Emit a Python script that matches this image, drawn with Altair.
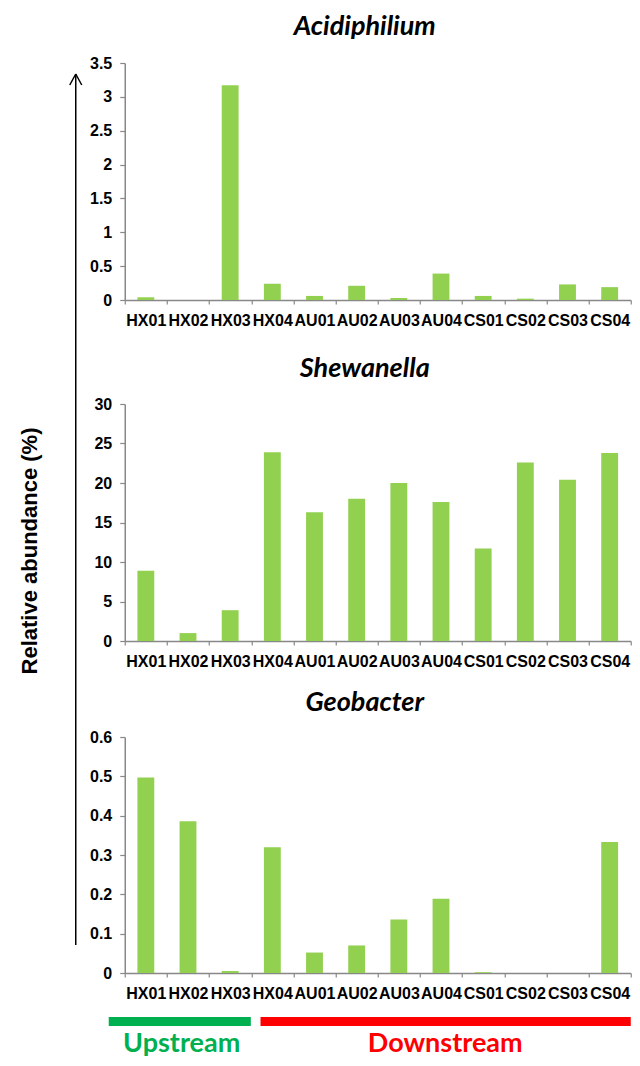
import altair as alt
import pandas as pd

samples = ["HX01", "HX02", "HX03", "HX04", "AU01", "AU02", "AU03", "AU04",
           "CS01", "CS02", "CS03", "CS04"]
acidiphilium = [0.04, 0.0, 3.17, 0.24, 0.06, 0.21, 0.03, 0.39, 0.06, 0.02, 0.23, 0.19]
shewanella = [8.9, 1.0, 3.9, 23.9, 16.3, 18.0, 20.0, 17.6, 11.7, 22.6, 20.4, 23.8]
geobacter = [0.497, 0.386, 0.005, 0.32, 0.052, 0.07, 0.136, 0.189, 0.002, 0.0, 0.0, 0.333]
taxa = ["Acidiphilium", "Shewanella", "Geobacter"]
y_max = [3.5, 30, 0.6]
y_ticks = [
    [0, 0.5, 1, 1.5, 2, 2.5, 3, 3.5],
    [0, 5, 10, 15, 20, 25, 30],
    [0, 0.1, 0.2, 0.3, 0.4, 0.5, 0.6],
]
y_title = "Relative abundance (%)"
regions = ["Upstream", "Downstream"]
region_start = [-0.38, 3.22]
region_end = [2.99, 12.0]
region_label_pos = [1.35, 7.6]
region_colors = ["#00B050", "#FF0000"]

BAR = "#92D050"
AXIS_GRAY = "#888888"
W = 506
FONT = "Liberation Sans"


def one_row(**kw):
    return pd.DataFrame({k: [v] for k, v in kw.items()})


def panel(i, values, y_range=None, title_y=-28):
    df = pd.DataFrame({"sample": samples, "value": values})
    if y_range is not None:
        yscale = alt.Scale(domain=[0, y_max[i]], nice=False, zero=True, range=y_range)
    else:
        yscale = alt.Scale(domain=[0, y_max[i]], nice=False, zero=True)
    bars = alt.Chart(df).mark_bar(color=BAR, width=alt.RelativeBandSize(0.4)).encode(
        x=alt.X("sample:N", sort=samples,
                scale=alt.Scale(paddingInner=0, paddingOuter=0),
                axis=alt.Axis(title=None, labelAngle=0, tickBand="extent",
                              labelOverlap=False,
                              labelFont=FONT, labelFontWeight="bold", labelFontSize=16,
                              labelColor="black", labelPadding=8, tickSize=4,
                              tickColor=AXIS_GRAY, domainColor=AXIS_GRAY,
                              domainWidth=1.5, tickWidth=1.2)),
        y=alt.Y("value:Q", scale=yscale,
                axis=alt.Axis(title=None, values=y_ticks[i], format="~g", grid=False,
                              labelFont=FONT, labelFontWeight="bold", labelFontSize=16,
                              labelColor="black", labelPadding=8, tickSize=5,
                              tickColor=AXIS_GRAY, domainColor=AXIS_GRAY,
                              domainWidth=1.5, tickWidth=1.2)),
    )
    ttl = alt.Chart(one_row(t=taxa[i])).mark_text(
        font="Lato", fontSize=27, fontStyle="italic", fontWeight="bold",
        align="center", baseline="alphabetic", color="black",
    ).encode(text="t:N", x=alt.value(240), y=alt.value(title_y))
    return bars, ttl


b1, t1 = panel(0, acidiphilium, title_y=-28)
p1 = alt.layer(b1, t1).properties(width=W, height=237)

b2, t2 = panel(1, shewanella, y_range=[245, 8], title_y=-19)
ylab = alt.Chart(one_row(t=y_title)).mark_text(
    font=FONT, fontSize=22, fontWeight="bold",
    angle=270, align="center", baseline="middle", color="black",
).encode(text="t:N", x=alt.value(-95), y=alt.value(155))
arrow_line = alt.Chart(one_row(k=0)).mark_rule(color="black", strokeWidth=1.5).encode(
    x=alt.value(-49), y=alt.value(-322), y2=alt.value(549))
arrow_l = alt.Chart(one_row(k=0)).mark_rule(color="black", strokeWidth=1.5).encode(
    x=alt.value(-55), x2=alt.value(-49), y=alt.value(-311), y2=alt.value(-322))
arrow_r = alt.Chart(one_row(k=0)).mark_rule(color="black", strokeWidth=1.5).encode(
    x=alt.value(-43), x2=alt.value(-49), y=alt.value(-311), y2=alt.value(-322))
p2 = alt.layer(b2, t2, ylab, arrow_line, arrow_l, arrow_r).properties(width=W, height=245)

b3, t3 = panel(2, geobacter, title_y=-26)
reg = pd.DataFrame({"region": regions, "start": region_start, "end": region_end,
                    "pos": region_label_pos, "color": region_colors})
lx = alt.Scale(domain=[0, 12], nice=False, zero=False)
reg_bars = alt.Chart(reg).mark_bar().encode(
    x=alt.X("start:Q", scale=lx, axis=None), x2="end:Q",
    y=alt.value(280), y2=alt.value(289),
    color=alt.Color("color:N", scale=None),
)
reg_text = alt.Chart(reg).mark_text(
    font="Lato", fontSize=27, fontWeight="bold", align="center", baseline="alphabetic",
).encode(
    x=alt.X("pos:Q", scale=lx, axis=None), y=alt.value(314.5),
    text="region:N", color=alt.Color("color:N", scale=None),
)
p3 = alt.layer(b3, t3, reg_bars, reg_text).resolve_scale(x="independent").properties(
    width=W, height=236)

chart = alt.vconcat(p1, p2, p3, spacing=96, bounds="flush").properties(
    padding={"left": 10.75, "top": 5, "right": 0, "bottom": 0.5}
).configure_view(stroke=None)

chart.save("out.html", embed_options={"renderer": "svg", "actions": False})
